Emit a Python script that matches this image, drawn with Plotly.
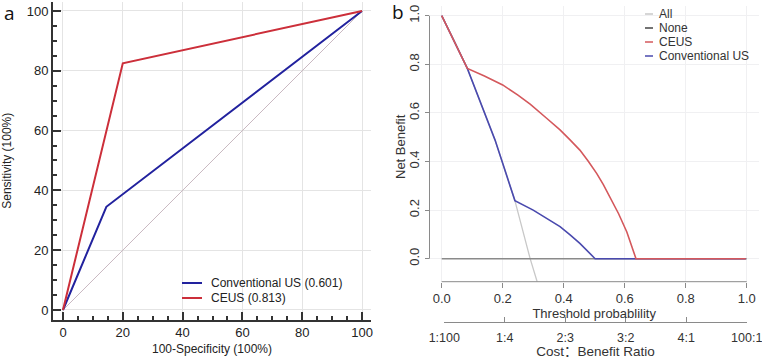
import plotly.graph_objects as go

# ---------------- data: panel a (ROC) ----------------
roc_diag_x = [0, 100]
roc_diag_y = [0, 100]
conv_fpr = [0, 14.5, 100]
conv_tpr = [0, 34.5, 100]
ceus_fpr = [0, 20, 100]
ceus_tpr = [0, 82.5, 100]
roc_ticks = [0, 20, 40, 60, 80, 100]
roc_legend = ["Conventional US (0.601)", "CEUS (0.813)"]

# ---------------- data: panel b (DCA) ----------------
all_x = [0, 0.04, 0.084, 0.175, 0.24, 0.29, 0.313]
all_y = [1.0, 0.90, 0.783, 0.488, 0.239, 0.0, -0.095]
none_x = [0, 1.0]
none_y = [0, 0]
dca_conv_x = [0, 0.084, 0.175, 0.24, 0.30, 0.344, 0.388, 0.421, 0.453, 0.503, 0.997]
dca_conv_y = [1.0, 0.783, 0.488, 0.239, 0.20, 0.166, 0.132, 0.098, 0.063, 0.0, 0.0]
dca_ceus_x = [0, 0.084, 0.14, 0.20, 0.25, 0.29, 0.344, 0.388, 0.42, 0.453, 0.48, 0.508,
              0.53, 0.552, 0.58, 0.607, 0.637, 0.997]
dca_ceus_y = [1.0, 0.783, 0.752, 0.715, 0.673, 0.636, 0.578, 0.53, 0.49, 0.447, 0.402, 0.351,
              0.305, 0.252, 0.185, 0.11, 0.0, 0.0]
dca_ticks = [0, 0.2, 0.4, 0.6, 0.8, 1.0]
ratio_pos = [0, 0.2, 0.4, 0.6, 0.8, 1.0]
ratio_labels = ["1:100", "1:4", "2:3", "3:2", "4:1", "100:1"]
dca_legend = ["All", "None", "CEUS", "Conventional US"]

W, H = 762, 359
def px(x):
    return x / W
def py(y):
    return 1 - y / H

FONT = "Liberation Sans, Arial, sans-serif"
CJK_FONT = "Liberation Sans, Noto Sans CJK SC, sans-serif"
RED_A, BLUE_A = "#cc2f3a", "#22229e"
RED_B, BLUE_B = "#d4585c", "#4a4aae"
GRAY_ALL, GRAY_NONE = "#c8c8c8", "#8a8a8a"

fig = go.Figure()

# panel a
fig.add_trace(go.Scatter(x=roc_diag_x, y=roc_diag_y, mode="lines",
                         line=dict(color="#c9b9c1", width=1), xaxis="x", yaxis="y",
                         showlegend=False, hoverinfo="skip"))
fig.add_trace(go.Scatter(x=conv_fpr, y=conv_tpr, mode="lines",
                         line=dict(color=BLUE_A, width=2), xaxis="x", yaxis="y",
                         name=roc_legend[0], showlegend=False))
fig.add_trace(go.Scatter(x=ceus_fpr, y=ceus_tpr, mode="lines",
                         line=dict(color=RED_A, width=2), xaxis="x", yaxis="y",
                         name=roc_legend[1], showlegend=False))

# panel b
fig.add_trace(go.Scatter(x=all_x, y=all_y, mode="lines", line=dict(color=GRAY_ALL, width=1.3),
                         xaxis="x2", yaxis="y2", name=dca_legend[0], showlegend=False))
fig.add_trace(go.Scatter(x=none_x, y=none_y, mode="lines", line=dict(color=GRAY_NONE, width=1.5),
                         xaxis="x2", yaxis="y2", name=dca_legend[1], showlegend=False))
fig.add_trace(go.Scatter(x=dca_conv_x, y=dca_conv_y, mode="lines", line=dict(color=BLUE_B, width=1.6),
                         xaxis="x2", yaxis="y2", name=dca_legend[3], showlegend=False))
fig.add_trace(go.Scatter(x=dca_ceus_x, y=dca_ceus_y, mode="lines",
                         line=dict(color=RED_B, width=1.6),
                         xaxis="x2", yaxis="y2", name=dca_legend[2], showlegend=False))
# carrier trace for the cost:benefit axis
fig.add_trace(go.Scatter(x=[None], y=[None], mode="lines", xaxis="x3", yaxis="y3",
                         showlegend=False, hoverinfo="skip"))

axis_a = dict(tickvals=roc_ticks, ticks="inside", ticklen=8, tickwidth=1.5, tickcolor="#333",
              showline=True, linecolor="#333", linewidth=2, showgrid=True, gridcolor="#e4e4e4",
              gridwidth=1, zeroline=False, automargin=False,
              minor=dict(dtick=5, ticks="inside", ticklen=4, tickcolor="#333", showgrid=False),
              tickfont=dict(family=FONT, size=13, color="#222"))

fig.update_layout(
    width=W, height=H, margin=dict(l=0, r=0, t=0, b=0),
    paper_bgcolor="white", plot_bgcolor="white", showlegend=False,
    font=dict(family=FONT, color="#222"),
    xaxis=dict(domain=[px(53), px(371)], range=[-3.34, 103.0], anchor="y",
               title=dict(text="100-Specificity (100%)", font=dict(size=12, color="#222"), standoff=6),
               **axis_a),
    yaxis=dict(domain=[py(319.5), py(2)], range=[-3.18, 103.0], anchor="x",
               title=dict(text="Sensitivity (100%)", font=dict(size=12, color="#222"), standoff=12),
               **axis_a),
    xaxis2=dict(domain=[px(429.5), px(758.9)], range=[-0.04, 1.04], anchor="y2",
                tickvals=dca_ticks, tickformat=".1f", ticks="outside", ticklen=5,
                tickcolor=GRAY_NONE, showline=False, showgrid=True, gridcolor="#f0f0f2",
                zeroline=False, automargin=False, tickfont=dict(family=FONT, size=13, color="#333"),
                title=dict(text="Threshold probablility", font=dict(size=13, color="#333"), standoff=2)),
    yaxis2=dict(domain=[py(281.7), py(5.5)], range=[-0.0947, 1.042], anchor="x2",
                tickvals=dca_ticks, tickformat=".1f", ticks="outside", ticklen=4, tickangle=-90,
                tickcolor=GRAY_NONE, showline=False, showgrid=True, gridcolor="#f0f0f2",
                zeroline=False, automargin=False, tickfont=dict(family=FONT, size=13, color="#333")),
    xaxis3=dict(domain=[px(444.3), px(746.7)], range=[0, 1], anchor="y3",
                tickvals=ratio_pos, ticktext=ratio_labels, ticks="inside", ticklen=5,
                tickcolor=GRAY_NONE, showline=True, linecolor=GRAY_NONE, linewidth=1,
                showgrid=False, zeroline=False, automargin=False,
                ticklabeloverflow="allow", ticklabelstandoff=4,
                tickfont=dict(family=FONT, size=12.5, color="#333"),
                title=dict(text="Cost：Benefit Ratio", font=dict(family=CJK_FONT, size=13.5, color="#333"),
                           standoff=2)),
    yaxis3=dict(domain=[py(322), py(320)], range=[0, 1], anchor="x3", visible=False,
                automargin=False),
)

shapes = []
# R-style axis lines for panel b
shapes.append(dict(type="line", xref="x2", yref="y2 domain", x0=dca_ticks[0], x1=dca_ticks[-1],
                   y0=0, y1=0, line=dict(color=GRAY_NONE, width=1)))
shapes.append(dict(type="line", xref="x2 domain", yref="y2", x0=0, x1=0,
                   y0=dca_ticks[0], y1=dca_ticks[-1], line=dict(color=GRAY_NONE, width=1)))
# panel b legend background
shapes.append(dict(type="rect", xref="paper", yref="paper", x0=px(640), x1=px(760),
                   y0=py(63), y1=py(5), fillcolor="white", line=dict(width=0), layer="between"))

annotations = []
# panel b y-axis title
annotations.append(dict(text="Net Benefit", xref="paper", yref="paper", x=px(400), y=py(147),
                        xanchor="center", yanchor="middle", textangle=-90, showarrow=False,
                        font=dict(family=FONT, size=13, color="#333")))
# panel a legend
for i, (lab, col) in enumerate(zip(roc_legend, [BLUE_A, RED_A])):
    yy = 283 + i * 15
    shapes.append(dict(type="line", xref="paper", yref="paper", x0=px(182), x1=px(202),
                       y0=py(yy), y1=py(yy), line=dict(color=col, width=2)))
    annotations.append(dict(text=lab, xref="paper", yref="paper", x=px(209), y=py(yy),
                            xanchor="left", yanchor="middle", showarrow=False,
                            font=dict(family=FONT, size=12, color="#222")))
# panel b legend
for i, (lab, col) in enumerate(zip(dca_legend, [GRAY_ALL, "#444", RED_B, BLUE_B])):
    yy = 14 + i * 14
    shapes.append(dict(type="line", xref="paper", yref="paper", x0=px(645), x1=px(653),
                       y0=py(yy), y1=py(yy), line=dict(color=col, width=1.5)))
    annotations.append(dict(text=lab, xref="paper", yref="paper", x=px(657), y=py(yy),
                            xanchor="left", yanchor="middle", showarrow=False,
                            font=dict(family=FONT, size=12, color="#333")))
# panel labels
annotations.append(dict(text="a", xref="paper", yref="paper", x=px(9), y=py(13),
                        xanchor="center", yanchor="middle", showarrow=False,
                        font=dict(family="Open Sans, sans-serif", size=19, color="#111")))
annotations.append(dict(text="b", xref="paper", yref="paper", x=px(398), y=py(12),
                        xanchor="center", yanchor="middle", showarrow=False,
                        font=dict(family="Open Sans, sans-serif", size=19, color="#111")))

fig.update_layout(shapes=shapes, annotations=annotations)
fig.write_html("out.html", config={"displayModeBar": False},
               post_script="document.body.style.margin='0';document.body.style.padding='0';")
